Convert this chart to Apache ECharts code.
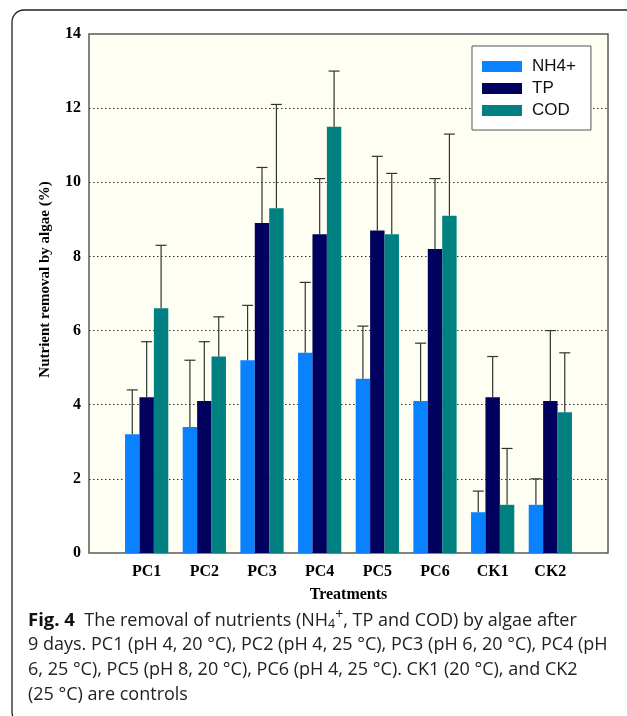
<!DOCTYPE html>
<html>
<head>
<meta charset="utf-8">
<script src="https://cdn.jsdelivr.net/npm/echarts@6/dist/echarts.min.js"></script>
<style>
html,body{margin:0;padding:0;background:#fff;}
#chart{width:627px;height:716px;}
</style>
</head>
<body>
<div id="chart"></div>
<script>
const categories = ['PC1', 'PC2', 'PC3', 'PC4', 'PC5', 'PC6', 'CK1', 'CK2'];
const seriesNames = ['NH4+', 'TP', 'COD'];
const nh4 = [3.2, 3.4, 5.2, 5.4, 4.7, 4.1, 1.1, 1.3];
const nh4Err = [1.2, 1.8, 1.48, 1.9, 1.42, 1.56, 0.57, 0.7];
const tp = [4.2, 4.1, 8.9, 8.6, 8.7, 8.2, 4.2, 4.1];
const tpErr = [1.5, 1.6, 1.5, 1.5, 2.0, 1.9, 1.1, 1.9];
const cod = [6.6, 5.3, 9.3, 11.5, 8.6, 9.1, 1.3, 3.8];
const codErr = [1.7, 1.07, 2.8, 1.5, 1.64, 2.2, 1.52, 1.6];
const yTicks = [0, 2, 4, 6, 8, 10, 12, 14];

const colors = ['#0A82FF', '#00005E', '#008080'];
const values = [nh4, tp, cod];
const errors = [nh4Err, tpErr, codErr];

// padded category axis: an empty slot on each side
const axisCats = [''].concat(categories, ['']);
const pad = arr => ['-'].concat(arr, ['-']);

const BAR_GROUP = 0.75;

function errorSeries(k) {
  return {
    type: 'custom',
    name: seriesNames[k] + ' err',
    z: 5,
    silent: true,
    data: values[k].map((v, i) => [i + 1, v, v + errors[k][i]]),
    encode: { x: 0, y: [1, 2] },
    renderItem: function (params, api) {
      const x = api.value(0);
      const lo = api.coord([x, api.value(1)]);
      const hi = api.coord([x, api.value(2)]);
      const band = api.size([1, 0])[0];
      const bw = band * BAR_GROUP / 3;
      const cx = lo[0] + (k - 1) * bw;
      const half = 5.5;
      const st = { stroke: '#333', lineWidth: 1.2 };
      return {
        type: 'group',
        children: [
          { type: 'line', shape: { x1: cx, y1: lo[1], x2: cx, y2: hi[1] }, style: st },
          { type: 'line', shape: { x1: cx - half, y1: hi[1], x2: cx + half, y2: hi[1] }, style: st }
        ]
      };
    }
  };
}

const serif = '"Liberation Serif", "Times New Roman", serif';
const chart = echarts.init(document.getElementById('chart'), null, { renderer: 'canvas' });

const option = {
  animation: false,
  backgroundColor: '#ffffff',
  grid: {
    left: 89, right: 19, top: 34, bottom: 163,
    show: true,
    backgroundColor: '#FEFEF2',
    borderColor: '#5a5a5a',
    borderWidth: 1.5,
    containLabel: false,
    outerBoundsMode: 'none'
  },
  legend: {
    data: seriesNames,
    left: 472, top: 46,
    orient: 'vertical',
    icon: 'rect',
    itemWidth: 40,
    itemHeight: 11,
    itemGap: 5,
    padding: [12, 15, 11, 10],
    backgroundColor: '#ffffff',
    borderColor: '#555',
    borderWidth: 1,
    borderRadius: 0,
    selectedMode: false,
    textStyle: {
      fontFamily: '"Liberation Sans", Arial, sans-serif',
      fontSize: 17,
      color: '#111',
      padding: [0, 0, 0, 5]
    }
  },
  xAxis: {
    type: 'category',
    data: axisCats,
    boundaryGap: false,
    axisLine: { show: false },
    axisTick: { show: false },
    splitLine: { show: false },
    axisLabel: {
      interval: 0,
      margin: 11,
      color: '#000',
      fontFamily: serif,
      fontWeight: 'bold',
      fontSize: 16
    },
    name: 'Treatments',
    nameLocation: 'middle',
    nameGap: 34,
    nameTextStyle: { fontFamily: serif, fontWeight: 'bold', fontSize: 16, color: '#000' }
  },
  yAxis: {
    type: 'value',
    min: yTicks[0],
    max: yTicks[yTicks.length - 1],
    interval: yTicks[1] - yTicks[0],
    axisLine: { show: false },
    axisTick: { show: false },
    splitLine: {
      show: true,
      showMinLine: false,
      showMaxLine: false,
      lineStyle: { color: '#333', type: [1.5, 2.5], width: 1 }
    },
    axisLabel: {
      margin: 8,
      color: '#000',
      fontFamily: serif,
      fontWeight: 'bold',
      fontSize: 16
    },
    name: 'Nutrient removal by algae (%)',
    nameLocation: 'middle',
    nameRotate: 90,
    nameGap: 36,
    nameTextStyle: {
      fontFamily: serif, fontWeight: 'bold', fontSize: 15, color: '#000',
      padding: [0, 0, 0, 28]
    }
  },
  series: seriesNames.map((n, k) => ({
    type: 'bar',
    name: n,
    data: pad(values[k]),
    barGap: '0%',
    barCategoryGap: '25%',
    itemStyle: { color: colors[k] },
    z: 3
  })).concat([0, 1, 2].map(errorSeries)),
  graphic: [
    {
      type: 'rect',
      silent: true,
      shape: { x: 12, y: 10, width: 660, height: 714, r: 12 },
      style: { fill: 'none', stroke: '#222', lineWidth: 1.3 }
    },
    {
      type: 'text',
      left: 28,
      top: 608,
      silent: true,
      style: {
        text: '{fb|Fig. 4}  The removal of nutrients (NH{sub|4}{sup|+}, TP and COD) by algae after\n' +
              '9 days. PC1 (pH 4, 20 °C), PC2 (pH 4, 25 °C), PC3 (pH 6, 20 °C), PC4 (pH\n' +
              '6, 25 °C), PC5 (pH 8, 20 °C), PC6 (pH 4, 25 °C). CK1 (20 °C), and CK2\n' +
              '(25 °C) are controls',
        fontFamily: '"Open Sans", "Noto Sans", sans-serif',
        fontSize: 18,
        lineHeight: 24.8,
        fill: '#222',
        rich: {
          fb: { fontFamily: '"Open Sans", sans-serif', fontWeight: 'bold', fontSize: 18.5, lineHeight: 24.8, fill: '#111' },
          sub: { fontFamily: '"Open Sans", sans-serif', fontSize: 12.5, lineHeight: 12, padding: [8, 0, 0, 0] },
          sup: { fontFamily: '"Open Sans", sans-serif', fontSize: 14, lineHeight: 12, padding: [0, 0, 10, 0] }
        }
      }
    }
  ]
};
chart.setOption(option);
</script>
</body>
</html>
